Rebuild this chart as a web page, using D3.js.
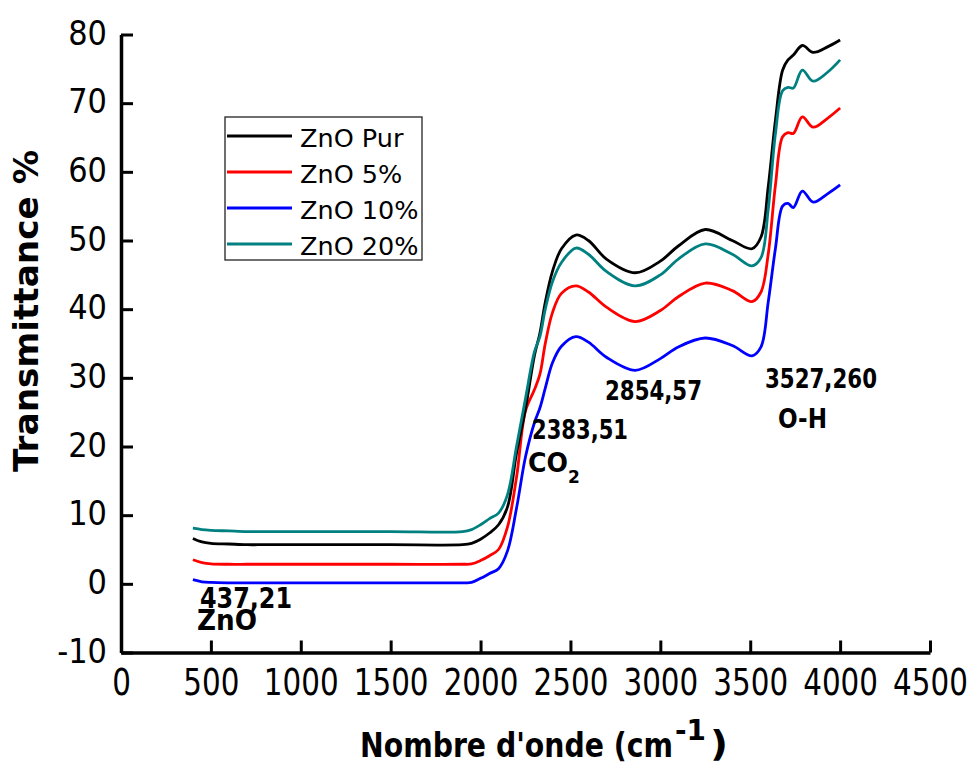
<!DOCTYPE html>
<html><head><meta charset="utf-8">
<script src="https://cdn.jsdelivr.net/npm/d3@7"></script>
<style>
html,body{margin:0;padding:0;background:#fff;}
svg{display:block;}
text{font-family:"DejaVu Sans",sans-serif;}
</style></head><body>
<svg id="c" width="975" height="765"></svg>
<script>
// ---------------- data ----------------
const wavenumbers = [400,450,500,600,700,800,1000,1500,1900,1950,2000,2050,2100,2150,2200,2250,2300,2330,2360,2400,2450,2530,2600,2700,2860,3000,3100,3250,3400,3510,3560,3600,3640,3680,3710,3740,3790,3850,3930,4000];
const znoPur = [6.6,6.1,5.9,5.8,5.7,5.7,5.7,5.7,5.7,5.9,6.5,7.4,8.6,11.2,19,25.5,33.3,36.5,41,45.5,48.8,50.8,50,47.3,45.3,47,49.2,51.6,50,48.8,50.5,57.8,67.5,74.8,76.3,77,78.4,77.4,78.2,79.2];
const zno5   = [3.5,3.1,2.9,2.85,2.85,2.85,2.85,2.85,2.85,2.9,3.4,4.1,5.0,8.3,15.5,25.2,28.3,30.5,35,39.5,42.3,43.4,42.5,40.3,38.2,39.8,41.8,43.8,42.7,41.1,42.5,48,58,65.1,65.7,65.6,68,66.5,67.8,69.3];
const zno10  = [0.6,0.3,0.2,0.15,0.15,0.15,0.15,0.15,0.15,0.2,0.8,1.5,2.2,4.8,11,18.5,23.5,25.6,28.5,32.2,34.6,36,35.2,33,31.1,32.8,34.5,35.8,34.7,33.2,34.5,41,48.8,55,55.4,54.8,57.2,55.6,56.8,58.1];
const zno20  = [8.1,7.9,7.8,7.7,7.6,7.6,7.6,7.6,7.6,7.9,8.6,9.5,10.3,13,20,27,33.8,36,40,44,46.8,48.9,48,45.5,43.4,45,47.3,49.5,48,46.3,47.5,54.5,65.5,71.8,72.3,72.2,74.8,73.2,74.5,76.3];
const seriesNames = ["ZnO Pur","ZnO 5%","ZnO 10%","ZnO 20%"];
const seriesValues = [znoPur, zno5, zno10, zno20];
const seriesColors = ["#000000","#ff0000","#0000ff","#008080"];
const xTicks = [0,500,1000,1500,2000,2500,3000,3500,4000,4500];
const xMinor = [250,750,1250,1750,2250,2750,3250,3750,4250];
const yTicks = [-10,0,10,20,30,40,50,60,70,80];
const yMinor = [-5,5,15,25,35,45,55,65,75];
const annotations = [
  {t:"437,21", x:200, y:608, w:92, fs:29},
  {t:"ZnO", x:197, y:630, w:60, fs:28},
  {t:"2383,51", x:532, y:439, w:96, fs:27},
  {t:"CO", x:528, y:472, w:40, fs:27},
  {t:"2854,57", x:605, y:400, w:97, fs:27},
  {t:"3527,260", x:765, y:388, w:112, fs:27},
  {t:"O-H", x:778, y:428, w:49, fs:27}
];

// ---------------- chart ----------------
const svg = d3.select("#c");
const x = d3.scaleLinear().domain([0,4500]).range([121,930]);
const y = d3.scaleLinear().domain([-10,80]).range([652.5,34.5]);

// series lines
const line = d3.line().x((d,i)=>x(wavenumbers[i])).y(d=>y(d)).curve(d3.curveCatmullRom.alpha(0.5));
const order = [2,1,0,3];
order.forEach(k=>{
  svg.append("path").datum(seriesValues[k]).attr("d",line)
    .attr("fill","none").attr("stroke",seriesColors[k]).attr("stroke-width",2.8)
    .attr("stroke-linejoin","round");
});

// axes
const gx = svg.append("g").attr("transform",`translate(0,${y(-10)})`);
gx.call(d3.axisBottom(x).tickValues(xMinor).tickSizeInner(-6).tickSizeOuter(0).tickFormat(""));
gx.call(d3.axisBottom(x).tickValues(xTicks).tickSizeInner(-12).tickSizeOuter(0).tickFormat(d=>d));
gx.selectAll("path.domain").attr("stroke","#000").attr("stroke-width",3.5);
gx.selectAll("line").attr("stroke","#000").attr("stroke-width",3);
gx.selectAll("text").attr("y",null).attr("dy",null)
  .attr("transform","translate(0,42.5) scale(1,1.26)")
  .attr("font-size",29.4).attr("fill","#000").attr("font-family","DejaVu Sans");

const gy = svg.append("g").attr("transform",`translate(${x(0)},0)`);
gy.call(d3.axisLeft(y).tickValues(yMinor).tickSizeInner(-6).tickSizeOuter(0).tickFormat(""));
gy.call(d3.axisLeft(y).tickValues(yTicks).tickSizeInner(-12).tickSizeOuter(0).tickFormat(d=>d));
gy.selectAll("path.domain").attr("stroke","#000").attr("stroke-width",3.5);
gy.selectAll("line").attr("stroke","#000").attr("stroke-width",3);
gy.selectAll("text").attr("x",null).attr("dy",null)
  .attr("transform","translate(-14,9.5) scale(1,1.12)")
  .attr("font-size",30.5).attr("fill","#000").attr("font-family","DejaVu Sans");

// axis titles
svg.append("text").attr("x",360).attr("y",757).attr("font-weight","bold")
  .attr("font-size",33).attr("textLength",313).attr("lengthAdjust","spacingAndGlyphs")
  .text("Nombre d'onde (cm");
svg.append("text").attr("x",675).attr("y",740).attr("font-weight","bold")
  .attr("font-size",28).attr("textLength",31).attr("lengthAdjust","spacingAndGlyphs")
  .text("-1");
svg.append("text").attr("x",710).attr("y",756).attr("font-weight","bold")
  .attr("font-size",36).attr("textLength",18).attr("lengthAdjust","spacingAndGlyphs")
  .text(")");
svg.append("text").attr("transform","translate(38,472) rotate(-90)").attr("font-weight","bold")
  .attr("font-size",34).attr("textLength",322).attr("lengthAdjust","spacingAndGlyphs")
  .text("Transmittance %");

// annotations
annotations.forEach(a=>{
  svg.append("text").attr("x",a.x).attr("y",a.y).attr("font-weight","bold")
    .attr("font-size",a.fs).attr("textLength",a.w).attr("lengthAdjust","spacingAndGlyphs")
    .text(a.t);
});
svg.append("text").attr("x",568).attr("y",483).attr("font-weight","bold").attr("font-size",17).text("2");

// legend
const lg = svg.append("g");
lg.append("rect").attr("x",225).attr("y",117).attr("width",197).attr("height",143)
  .attr("fill","#fff").attr("stroke","#222").attr("stroke-width",1.3);
seriesNames.forEach((n,i)=>{
  const ly = 136 + i*36;
  lg.append("line").attr("x1",227).attr("x2",292).attr("y1",ly).attr("y2",ly)
    .attr("stroke",seriesColors[i]).attr("stroke-width",3);
  lg.append("text").attr("x",300).attr("y",ly+10.5).attr("font-size",25.5).attr("fill","#000").text(n);
});
</script>
</body></html>
